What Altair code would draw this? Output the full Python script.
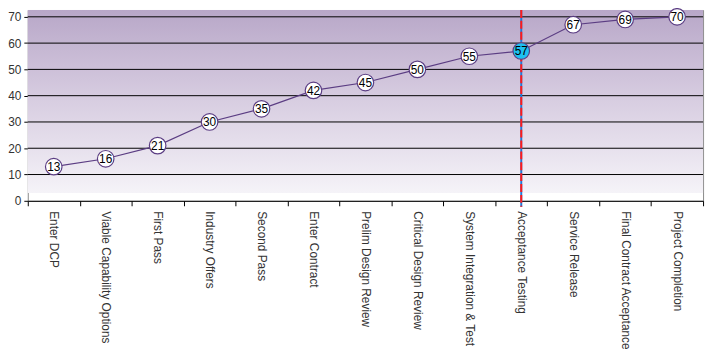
import altair as alt
import pandas as pd

stages = ["Enter DCP", "Viable Capability Options", "First Pass", "Industry Offers",
          "Second Pass", "Enter Contract", "Prelim Design Review", "Critical Design Review",
          "System Integration & Test", "Acceptance Testing", "Service Release",
          "Final Contract Acceptance", "Project Completion"]
values = [13, 16, 21, 30, 35, 42, 45, 50, 55, 57, 67, 69, 70]
current_stage = "Acceptance Testing"
grid_values = [10, 20, 30, 40, 50, 60, 70]
tick_values = [0, 10, 20, 30, 40, 50, 60, 70]

df = pd.DataFrame({"stage": stages, "value": values})
df["current"] = df["stage"] == current_stage

W, H = 683, 193
YMAX = 72.6
FONT = "Liberation Sans"

xaxis = alt.Axis(title=None, labelAngle=90, labelAlign="left", labelBaseline="middle",
                 tickBand="extent", ticks=True, tickSize=5, tickColor="#000",
                 domainColor="#000", labelColor="#333", labelFontSize=12,
                 labelFont=FONT, labelPadding=5, grid=False, labelOverlap=False)
yaxis = alt.Axis(title=None, values=tick_values, grid=False, tickColor="#000",
                 tickSize=4, domain=False, labelColor="#333", labelFontSize=12,
                 labelFont=FONT, labelPadding=3, labelOverlap=False)
xscale = alt.Scale(type="band", paddingInner=0, paddingOuter=0)
yscale = alt.Scale(domain=[0, YMAX], nice=False)

xenc = alt.X("stage:N", sort=stages, bandPosition=0.5, scale=xscale, axis=xaxis)

bg = alt.Chart(pd.DataFrame({"a": [0]})).mark_rect(
    color=alt.Gradient(gradient="linear", x1=0, y1=0, x2=0, y2=1,
                       stops=[alt.GradientStop(color="#b8a7c8", offset=0),
                              alt.GradientStop(color="#d5cadf", offset=0.45),
                              alt.GradientStop(color="#f5f3f8", offset=1)])
).encode(x=alt.value(0), x2=alt.value(W),
         y=alt.Y("top:Q", scale=yscale, axis=yaxis),
         y2="bot:Q").transform_calculate(top=str(YMAX), bot="3")

grid = alt.Chart(pd.DataFrame({"g": grid_values})).mark_rule(color="#000", strokeWidth=1).encode(
    y=alt.Y("g:Q", scale=yscale, axis=yaxis), x=alt.value(0), x2=alt.value(W))

line = alt.Chart(df).mark_line(color="#5b3d83", strokeWidth=1.2).encode(
    x=xenc, y=alt.Y("value:Q", scale=yscale, axis=yaxis))

vline_blue = alt.Chart(pd.DataFrame({"stage": [current_stage]})).mark_rule(
    color="#1e78d8", strokeWidth=2).encode(
    x=alt.X("stage:N", sort=stages, bandPosition=0.5, scale=xscale, axis=xaxis),
    y=alt.value(0), y2=alt.value(199))
vline_red = alt.Chart(pd.DataFrame({"stage": [current_stage]})).mark_rule(
    color="#ff1a1a", strokeWidth=2, strokeDash=[8, 3]).encode(
    x=alt.X("stage:N", sort=stages, bandPosition=0.5, scale=xscale, axis=xaxis),
    y=alt.value(0), y2=alt.value(199))

pts = alt.Chart(df).mark_point(filled=True, size=280, strokeWidth=1.2, opacity=1).encode(
    x=xenc, y=alt.Y("value:Q", scale=yscale, axis=yaxis),
    fill=alt.condition("datum.current", alt.value("#1ec0f0"), alt.value("#ffffff")),
    stroke=alt.value("#5b3d83"))

labels = alt.Chart(df).mark_text(font=FONT, fontSize=12, color="#000", baseline="middle",
                                 align="center", dy=0.5).encode(
    x=xenc, y=alt.Y("value:Q", scale=yscale, axis=yaxis), text="value:Q")

chart = alt.layer(bg, grid, line, vline_blue, vline_red, pts, labels).properties(
    width=W, height=H,
    autosize=alt.AutoSizeParams(type="none"),
    padding={"left": 20, "top": 0, "right": 6, "bottom": 160}
).configure_view(stroke="#8a8a8a", strokeWidth=1).configure_axis(labelOverlap=False)

chart.save("out.html", embed_options={"renderer": "svg", "actions": False})
